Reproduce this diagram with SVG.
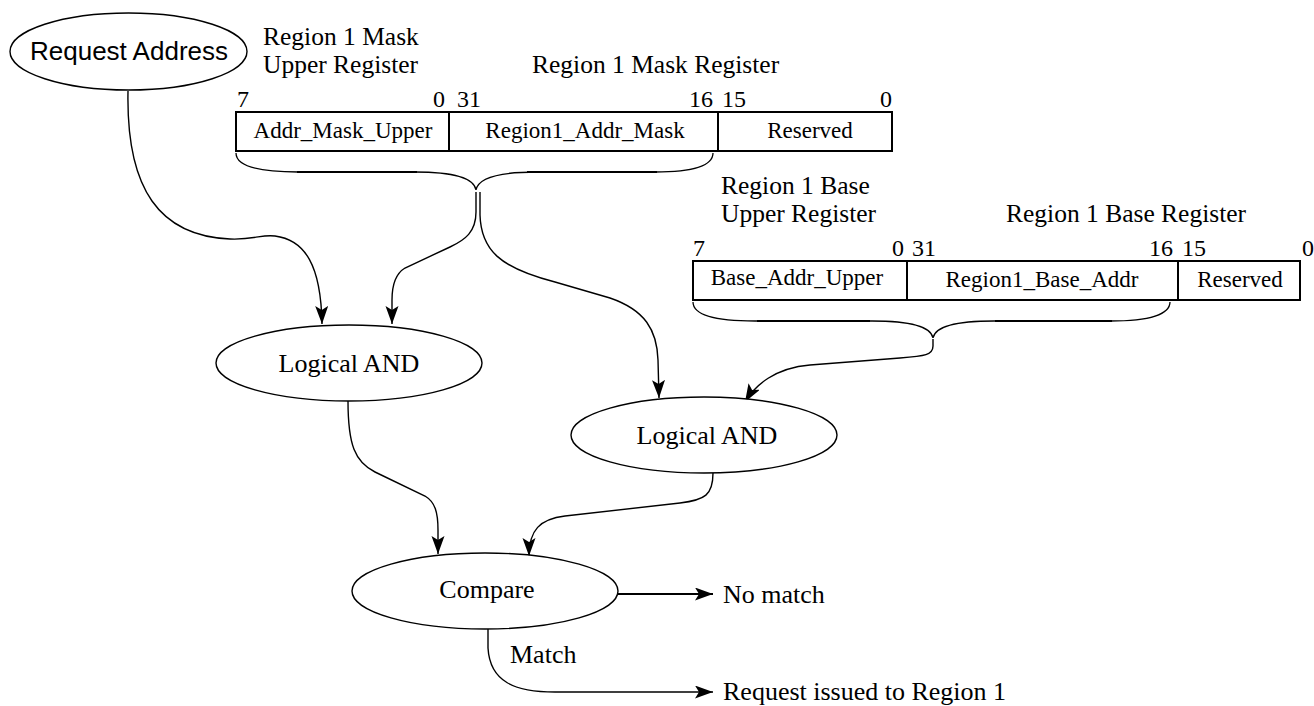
<svg xmlns="http://www.w3.org/2000/svg" width="1314" height="706" viewBox="0 0 1314 706">
<defs>
<style>
text{font-family:"Liberation Serif","Times New Roman",serif;fill:#000}
.h{font-size:25.5px}
.b{font-size:24px}
.l{font-size:23px}
.n{font-size:26px}
.sans{font-family:"Liberation Sans",Arial,sans-serif;font-size:26px}
.node{fill:#fff;stroke:#000;stroke-width:1.4}
.box{fill:#fff;stroke:#000;stroke-width:2}
.conn{fill:none;stroke:#000;stroke-width:1.4}
.brace{fill:none;stroke:#000;stroke-width:1.3}
.bar{stroke:#000;stroke-width:2.2}
</style>
<marker id="arr" markerUnits="userSpaceOnUse" markerWidth="20" markerHeight="14" refX="18" refY="6.5" orient="auto">
<path d="M0,0 L18,6.5 L0,13 L4,6.5 z" fill="#000"/>
</marker>
</defs>
<rect width="1314" height="706" fill="#fff"/>

<g id="connectors">
<path class="conn" d="M128,91 C126,190 160,236 230,239 C255,240 262,234 275,236 C305,240 321,265 322,324" marker-end="url(#arr)"/>
<path class="conn" d="M476,192 L476,212 C476,232 465,240 450,247 L405,268 C395,274 392,285 392,300 L392,324" marker-end="url(#arr)"/>
<path class="conn" d="M480,192 L480,215 C481,250 500,268 555,282 L610,298 C645,310 657,330 658,360 L659,398" marker-end="url(#arr)"/>
<path class="conn" d="M933,339 L933,346 C933,355 925,356 900,358 L810,365 C775,368 755,385 745,402" marker-end="url(#arr)"/>
<path class="conn" d="M348,401 C348,445 355,462 375,472 L425,496 C435,502 438,512 438,530 L438,554" marker-end="url(#arr)"/>
<path class="conn" d="M713,473 C713,495 705,500 680,503 L565,516 C540,519 529,530 529,556" marker-end="url(#arr)"/>
<path class="conn" style="stroke-width:2" d="M618,594 L713,594" marker-end="url(#arr)"/>
<path class="conn" d="M488,629 L488,648 C490,682 515,692 555,692 L713,692" marker-end="url(#arr)"/>
<text class="n" x="510" y="663">Match</text>
<text class="n" x="723" y="603">No match</text>
<text class="n" x="723" y="700">Request issued to Region 1</text>
</g>

<g id="request-address">
<ellipse class="node" cx="128.5" cy="51.5" rx="118.5" ry="38.5"/>
<text class="sans" x="129" y="60" text-anchor="middle">Request Address</text>
</g>

<g id="mask-register">
<text class="h" x="263" y="45">Region 1 Mask</text>
<text class="h" x="263" y="73">Upper Register</text>
<text class="h" x="532" y="73">Region 1 Mask Register</text>
<text class="b" x="237" y="107">7</text>
<text class="b" x="445" y="107" text-anchor="end">0</text>
<text class="b" x="457" y="107">31</text>
<text class="b" x="713" y="107" text-anchor="end">16</text>
<text class="b" x="722" y="107">15</text>
<text class="b" x="892" y="107" text-anchor="end">0</text>
<rect class="box" x="236" y="112" width="213" height="39"/>
<rect class="box" x="449" y="112" width="269" height="39"/>
<rect class="box" x="718" y="112" width="174" height="39"/>
<text class="l" x="343" y="138" text-anchor="middle">Addr_Mask_Upper</text>
<text class="l" x="585" y="138" text-anchor="middle">Region1_Addr_Mask</text>
<text class="l" x="810" y="138" text-anchor="middle">Reserved</text>
<path class="brace" d="M236,153 C236,165 255,172 298,172 L415,172 C455,172 474,178 476,190 C478,178 497,172 537,172 L655,172 C695,172 713,165 713,153"/>
<line class="bar" x1="297" y1="172" x2="417" y2="172"/>
<line class="bar" x1="527" y1="172" x2="657" y2="172"/>
</g>

<g id="base-register">
<text class="h" x="721" y="194">Region 1 Base</text>
<text class="h" x="721" y="222">Upper Register</text>
<text class="h" x="1006" y="222">Region 1 Base Register</text>
<text class="b" x="693" y="256">7</text>
<text class="b" x="904" y="256" text-anchor="end">0</text>
<text class="b" x="912" y="256">31</text>
<text class="b" x="1173" y="256" text-anchor="end">16</text>
<text class="b" x="1182" y="256">15</text>
<text class="b" x="1302" y="256">0</text>
<rect class="box" x="693" y="261" width="214" height="39"/>
<rect class="box" x="907" y="261" width="271" height="39"/>
<rect class="box" x="1178" y="261" width="122" height="39"/>
<text class="l" x="797" y="285" text-anchor="middle">Base_Addr_Upper</text>
<text class="l" x="1042" y="287" text-anchor="middle">Region1_Base_Addr</text>
<text class="l" x="1240" y="287" text-anchor="middle">Reserved</text>
<path class="brace" d="M693,302 C693,314 712,321 755,321 L872,321 C912,321 931,327 933,338 C935,327 954,321 994,321 L1110,321 C1150,321 1170,314 1170,302"/>
<line class="bar" x1="757" y1="321" x2="870" y2="321"/>
<line class="bar" x1="995" y1="321" x2="1112" y2="321"/>
</g>

<g id="logical-and-1">
<ellipse class="node" cx="349" cy="363" rx="133" ry="38"/>
<text class="n" x="349" y="372" text-anchor="middle">Logical AND</text>
</g>

<g id="logical-and-2">
<ellipse class="node" cx="704" cy="435" rx="133" ry="38"/>
<text class="n" x="707" y="444" text-anchor="middle">Logical AND</text>
</g>

<g id="compare">
<ellipse class="node" cx="485" cy="591" rx="133" ry="38"/>
<text class="n" x="487" y="598" text-anchor="middle">Compare</text>
</g>
</svg>
